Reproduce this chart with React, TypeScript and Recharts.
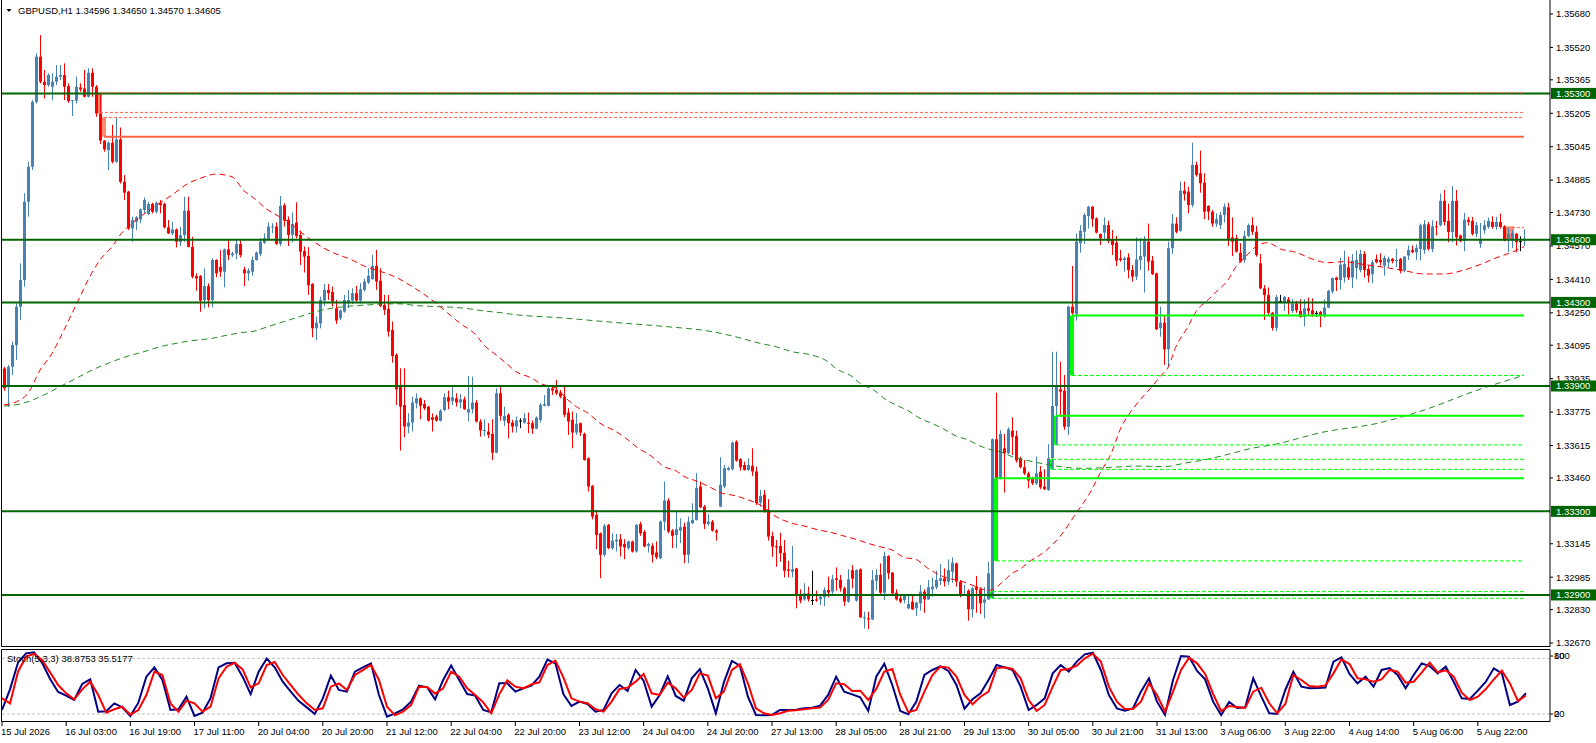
import React from 'react'
import {
  ComposedChart,
  Bar,
  Line,
  XAxis,
  YAxis,
  ReferenceLine,
  ReferenceArea,
} from 'recharts'

// prices are stored in points above 1.30000 (1 point = 0.00001)
const openPts = [
  3984, 3897, 3992, 4096, 4279, 4407, 4782, 4949, 5260, 5476,
  5356, 5340, 5332, 5356, 5380, 5388, 5335, 5265, 5265, 5329,
  5324, 5284, 5399, 5332, 5204, 5074, 5029, 5064, 4973, 5080,
  4877, 4830, 4654, 4686, 4697, 4742, 4723, 4771, 4734, 4777,
  4771, 4659, 4630, 4649, 4590, 4622, 4739, 4566, 4426, 4426,
  4311, 4378, 4311, 4503, 4470, 4447, 4554, 4526, 4534, 4579,
  4458, 4439, 4447, 4503, 4532, 4586, 4602, 4660, 4663, 4580,
  4765, 4695, 4623, 4682, 4623, 4546, 4522, 4388, 4176, 4200,
  4309, 4360, 4350, 4272, 4224, 4256, 4296, 4309, 4344, 4309,
  4360, 4395, 4411, 4474, 4404, 4288, 4269, 4168, 4049, 3897,
  3809, 3706, 3725, 3817, 3841, 3814, 3801, 3750, 3754, 3734,
  3785, 3846, 3829, 3841, 3821, 3836, 3773, 3789, 3821, 3730,
  3687, 3682, 3671, 3581, 3865, 3734, 3762, 3725, 3706, 3735,
  3725, 3725, 3722, 3696, 3738, 3805, 3805, 3889, 3881, 3869,
  3849, 3773, 3738, 3677, 3722, 3671, 3554, 3422, 3283, 3195,
  3092, 3235, 3124, 3156, 3167, 3144, 3124, 3156, 3108, 3240,
  3202, 3135, 3135, 3103, 3076, 3251, 3352, 3208, 3187, 3208,
  3227, 3092, 3243, 3259, 3419, 3323, 3240, 3251, 3208, 3323,
  3419, 3498, 3502, 3634, 3550, 3522, 3498, 3518, 3491, 3342,
  3380, 3307, 3182, 3134, 3134, 3102, 3023, 3011, 3027, 2905,
  2879, 2908, 2876, 2879, 2879, 2889, 2924, 2916, 2980, 2972,
  2932, 2868, 3019, 2873, 3023, 2788, 2788, 2783, 2968, 2996,
  2911, 3086, 3007, 2911, 2884, 2876, 2836, 2868, 2836, 2860,
  2916, 2879, 2927, 2937, 2968, 2980, 2964, 3011, 3051, 2964,
  2900, 2921, 2831, 2940, 2927, 2863, 2879, 2892, 3645, 3458,
  3602, 3578, 3686, 3661, 3554, 3511, 3482, 3458, 3434, 3490,
  3418, 3402, 3554, 3804, 3884, 3878, 3705, 4280, 4245, 4583,
  4638, 4713, 4758, 4702, 4627, 4634, 4670, 4602, 4586, 4511,
  4503, 4516, 4455, 4423, 4503, 4519, 4591, 4500, 4439, 4176,
  4203, 4075, 4559, 4677, 4643, 4835, 4830, 4766, 4958, 4918,
  4873, 4761, 4734, 4677, 4670, 4718, 4755, 4611, 4607, 4538,
  4503, 4618, 4670, 4638, 4487, 4367, 4335, 4250, 4178, 4307,
  4299, 4315, 4259, 4294, 4259, 4230, 4272, 4262, 4250, 4255,
  4239, 4275, 4352, 4419, 4407, 4419, 4468, 4419, 4464, 4455,
  4532, 4460, 4436, 4508, 4503, 4476, 4492, 4508, 4500, 4508,
  4452, 4524, 4551, 4540, 4556, 4551, 4674, 4556, 4664, 4669,
  4786, 4690, 4637, 4786, 4620, 4593, 4696, 4690, 4628, 4580,
  4645, 4661, 4685, 4661, 4685, 4664, 4604, 4596, 4628, 4593,
  4596,
]

const highPts = [
  3992, 4000, 4112, 4295, 4487, 4822, 4973, 5268, 5492, 5579,
  5412, 5396, 5396, 5436, 5436, 5444, 5348, 5268, 5380, 5348,
  5412, 5420, 5420, 5340, 5297, 5077, 5069, 5149, 5181, 5137,
  4909, 4834, 4710, 4713, 4750, 4802, 4782, 4777, 4782, 4790,
  4777, 4694, 4686, 4654, 4662, 4806, 4806, 4614, 4439, 4431,
  4463, 4391, 4511, 4506, 4550, 4558, 4598, 4542, 4598, 4598,
  4471, 4463, 4519, 4543, 4607, 4631, 4682, 4679, 4683, 4809,
  4774, 4711, 4731, 4779, 4644, 4567, 4564, 4392, 4232, 4328,
  4388, 4388, 4376, 4312, 4267, 4336, 4360, 4368, 4379, 4392,
  4414, 4463, 4527, 4551, 4463, 4336, 4336, 4208, 4057, 3985,
  3985, 3769, 3849, 3865, 3845, 3833, 3805, 3769, 3762, 3789,
  3865, 3878, 3894, 3865, 3862, 3849, 3948, 3945, 3833, 3741,
  3741, 3722, 3741, 3889, 3905, 3801, 3769, 3738, 3754, 3746,
  3770, 3773, 3735, 3754, 3818, 3857, 3905, 3905, 3929, 3881,
  3905, 3794, 3778, 3770, 3725, 3677, 3559, 3427, 3307, 3199,
  3240, 3240, 3195, 3192, 3192, 3167, 3160, 3160, 3240, 3251,
  3211, 3151, 3148, 3156, 3256, 3443, 3363, 3215, 3299, 3267,
  3246, 3275, 3339, 3483, 3443, 3331, 3288, 3259, 3215, 3559,
  3522, 3514, 3634, 3640, 3554, 3538, 3554, 3602, 3514, 3403,
  3402, 3358, 3203, 3163, 3198, 3163, 3064, 3134, 3030, 2927,
  2956, 2940, 3016, 2921, 2895, 2937, 2988, 2996, 3032, 2996,
  2940, 3023, 3043, 3023, 3027, 2820, 2820, 3019, 3023, 3051,
  3107, 3090, 3010, 2927, 2900, 2905, 2900, 2895, 2868, 2948,
  2927, 2972, 2984, 3016, 3048, 3027, 3070, 3080, 3055, 2972,
  2948, 2927, 2940, 2991, 2937, 2937, 3059, 3649, 3868, 3689,
  3670, 3702, 3750, 3686, 3562, 3546, 3490, 3466, 3562, 3517,
  3501, 3622, 4064, 4064, 4016, 3953, 4284, 4474, 4630, 4670,
  4726, 4762, 4761, 4707, 4630, 4707, 4691, 4646, 4618, 4551,
  4519, 4535, 4479, 4611, 4607, 4618, 4677, 4522, 4442, 4280,
  4240, 4591, 4723, 4707, 4878, 4878, 4854, 5064, 4973, 5026,
  4918, 4765, 4742, 4726, 4734, 4774, 4777, 4707, 4623, 4583,
  4643, 4677, 4707, 4666, 4532, 4383, 4371, 4255, 4336, 4336,
  4331, 4326, 4315, 4307, 4315, 4315, 4323, 4320, 4259, 4259,
  4315, 4360, 4419, 4423, 4513, 4548, 4519, 4532, 4548, 4551,
  4545, 4476, 4503, 4529, 4535, 4524, 4519, 4513, 4556, 4513,
  4522, 4572, 4572, 4577, 4677, 4693, 4685, 4693, 4690, 4821,
  4838, 4773, 4857, 4838, 4624, 4728, 4709, 4709, 4685, 4680,
  4693, 4706, 4712, 4709, 4725, 4669, 4657, 4645, 4632, 4616,
  4650,
]

const lowPts = [
  3877, 3801, 3952, 4024, 4215, 4375, 4710, 4933, 5252, 5348,
  5276, 5332, 5268, 5340, 5364, 5268, 5255, 5192, 5252, 5308,
  5281, 5281, 5284, 5188, 5058, 5021, 4933, 4965, 4968, 4869,
  4790, 4646, 4590, 4646, 4678, 4726, 4718, 4726, 4726, 4726,
  4654, 4627, 4622, 4563, 4570, 4590, 4563, 4415, 4356, 4255,
  4271, 4276, 4276, 4420, 4423, 4372, 4503, 4518, 4506, 4515,
  4378, 4404, 4427, 4500, 4522, 4580, 4596, 4631, 4575, 4570,
  4663, 4570, 4586, 4607, 4479, 4443, 4336, 4133, 4120, 4176,
  4283, 4312, 4280, 4197, 4216, 4251, 4272, 4293, 4304, 4296,
  4352, 4388, 4408, 4360, 4277, 4240, 4136, 4012, 3809, 3591,
  3655, 3674, 3682, 3793, 3741, 3785, 3730, 3682, 3730, 3730,
  3780, 3789, 3809, 3801, 3793, 3785, 3730, 3769, 3725, 3658,
  3661, 3650, 3546, 3578, 3734, 3709, 3650, 3677, 3677, 3698,
  3719, 3674, 3671, 3693, 3725, 3803, 3802, 3857, 3857, 3841,
  3751, 3666, 3602, 3666, 3661, 3543, 3395, 3262, 3119, 2980,
  3084, 3119, 3116, 3108, 3084, 3071, 3116, 3103, 3103, 3183,
  3128, 3103, 3055, 3071, 3071, 3208, 3195, 3124, 3124, 3148,
  3052, 3052, 3240, 3256, 3315, 3215, 3231, 3203, 3160, 3320,
  3411, 3495, 3495, 3538, 3495, 3495, 3495, 3470, 3331, 3323,
  3294, 3160, 3083, 3035, 3059, 2984, 2984, 2984, 2836, 2860,
  2873, 2868, 2852, 2868, 2852, 2847, 2889, 2895, 2921, 2916,
  2847, 2863, 2932, 2868, 2790, 2740, 2736, 2780, 2921, 2900,
  2876, 2975, 2895, 2873, 2860, 2860, 2831, 2828, 2799, 2825,
  2815, 2876, 2892, 2927, 2948, 2940, 2948, 2959, 2940, 2889,
  2895, 2777, 2793, 2815, 2809, 2788, 2876, 2884, 3453, 3453,
  3390, 3575, 3570, 3533, 3506, 3474, 3410, 3426, 3426, 3406,
  3402, 3398, 3498, 3618, 3753, 3690, 3666, 4240, 4213, 4538,
  4580, 4654, 4662, 4630, 4575, 4599, 4583, 4527, 4474, 4495,
  4447, 4415, 4399, 4407, 4455, 4347, 4452, 4431, 4168, 4136,
  4001, 3989, 4532, 4630, 4638, 4787, 4726, 4755, 4902, 4825,
  4698, 4694, 4662, 4662, 4650, 4682, 4570, 4522, 4538, 4490,
  4490, 4612, 4623, 4519, 4363, 4216, 4240, 4165, 4162, 4299,
  4259, 4243, 4250, 4250, 4227, 4186, 4235, 4230, 4230, 4181,
  4227, 4272, 4342, 4355, 4363, 4395, 4407, 4368, 4411, 4444,
  4419, 4395, 4391, 4487, 4476, 4428, 4468, 4487, 4468, 4439,
  4444, 4503, 4535, 4503, 4500, 4532, 4548, 4540, 4620, 4664,
  4669, 4588, 4588, 4572, 4588, 4545, 4669, 4620, 4612, 4561,
  4628, 4653, 4653, 4648, 4653, 4593, 4540, 4561, 4540, 4545,
  4570,
]

const closePts = [
  3889, 3992, 4096, 4279, 4407, 4782, 4949, 5260, 5476, 5356,
  5340, 5388, 5356, 5380, 5388, 5332, 5263, 5268, 5332, 5319,
  5284, 5399, 5332, 5204, 5074, 5032, 5064, 4973, 5080, 4877,
  4825, 4654, 4694, 4707, 4745, 4790, 4771, 4734, 4777, 4766,
  4659, 4630, 4649, 4590, 4622, 4739, 4566, 4423, 4415, 4308,
  4378, 4311, 4503, 4439, 4447, 4554, 4526, 4534, 4579, 4526,
  4439, 4452, 4503, 4538, 4591, 4607, 4663, 4663, 4580, 4762,
  4691, 4623, 4674, 4618, 4543, 4519, 4382, 4176, 4203, 4312,
  4360, 4344, 4304, 4213, 4261, 4312, 4312, 4344, 4309, 4363,
  4400, 4427, 4474, 4400, 4283, 4264, 4160, 4044, 3884, 3801,
  3706, 3725, 3821, 3841, 3805, 3793, 3734, 3738, 3734, 3782,
  3846, 3825, 3846, 3821, 3836, 3789, 3789, 3821, 3730, 3687,
  3690, 3666, 3581, 3865, 3757, 3757, 3722, 3706, 3735, 3735,
  3746, 3719, 3696, 3749, 3810, 3813, 3889, 3878, 3865, 3849,
  3762, 3730, 3677, 3719, 3677, 3546, 3419, 3275, 3187, 3092,
  3231, 3124, 3160, 3164, 3132, 3128, 3156, 3108, 3235, 3195,
  3132, 3144, 3092, 3081, 3251, 3352, 3203, 3183, 3215, 3224,
  3092, 3251, 3259, 3411, 3320, 3240, 3251, 3208, 3199, 3427,
  3507, 3507, 3629, 3543, 3511, 3498, 3522, 3491, 3339, 3374,
  3299, 3179, 3131, 3128, 3099, 3016, 3016, 3023, 2900, 2873,
  2908, 2879, 2876, 2873, 2892, 2924, 2911, 2975, 2972, 2932,
  2868, 2975, 2978, 3019, 2793, 2793, 2783, 2972, 2996, 2911,
  3086, 3004, 2908, 2879, 2868, 2895, 2857, 2831, 2863, 2916,
  2879, 2937, 2940, 2972, 2980, 2964, 3019, 3055, 2964, 2900,
  2905, 2831, 2932, 2924, 2860, 2879, 3004, 3645, 3458, 3670,
  3578, 3693, 3657, 3543, 3511, 3482, 3447, 3434, 3482, 3415,
  3406, 3554, 3804, 3897, 3873, 3705, 4280, 4248, 4591, 4643,
  4718, 4758, 4698, 4634, 4607, 4670, 4595, 4575, 4500, 4503,
  4511, 4455, 4423, 4506, 4522, 4595, 4495, 4436, 4171, 4203,
  4075, 4559, 4677, 4638, 4835, 4819, 4766, 4958, 4910, 4870,
  4734, 4734, 4677, 4698, 4718, 4758, 4599, 4591, 4543, 4495,
  4618, 4670, 4638, 4527, 4367, 4335, 4250, 4178, 4326, 4307,
  4326, 4299, 4294, 4262, 4230, 4272, 4259, 4243, 4250, 4239,
  4275, 4355, 4416, 4407, 4481, 4484, 4419, 4500, 4503, 4532,
  4455, 4428, 4492, 4492, 4492, 4513, 4508, 4497, 4503, 4452,
  4519, 4551, 4540, 4561, 4669, 4674, 4556, 4664, 4661, 4786,
  4685, 4637, 4786, 4612, 4593, 4696, 4685, 4628, 4669, 4604,
  4669, 4690, 4661, 4685, 4661, 4596, 4628, 4632, 4588, 4593,
  4605,
]

// moving averages, read at these bars
const fastMaBars = [
  0, 4, 6, 9, 12, 15, 17, 19, 21, 24, 27, 29, 32, 37, 42, 46, 49, 53, 57, 60,
  62, 66, 68, 71, 74, 78, 80, 83, 87, 90, 93, 96, 98, 102, 104, 108, 111, 114, 118, 120,
  123, 126, 128, 132, 134, 138, 141, 143, 146, 149, 153, 156, 158, 162, 165, 168, 170, 173, 177, 179,
  183, 186, 189, 193, 197, 200, 203, 207, 210, 213, 216, 219, 222, 225, 228, 231, 233, 236, 239, 243,
  246, 248, 250, 252, 254, 256, 260, 264, 268, 272, 274, 277, 279, 282, 284, 287, 289, 291, 293, 296,
  298, 301, 303, 306, 308, 310, 313, 316, 319, 323, 327, 331, 335, 339, 345, 350, 355, 360, 365, 369,
  373, 377, 380,
]
const fastMaPts = [
  3809, 3833, 3865, 3976, 4056, 4168, 4247, 4327, 4407, 4503, 4566, 4622, 4678, 4750, 4814, 4869, 4893, 4914, 4901, 4834,
  4806, 4742, 4719, 4687, 4639, 4583, 4559, 4532, 4503, 4474, 4455, 4436, 4420, 4376, 4352, 4296, 4248, 4200, 4144, 4096,
  4049, 4001, 3969, 3937, 3913, 3889, 3833, 3802, 3770, 3722, 3682, 3642, 3610, 3562, 3514, 3494, 3467, 3446, 3411, 3390,
  3374, 3355, 3331, 3275, 3243, 3230, 3214, 3198, 3182, 3166, 3147, 3131, 3115, 3080, 3070, 3027, 3004, 2980, 2968, 2940,
  2921, 2937, 2968, 3004, 3023, 3055, 3105, 3180, 3290, 3406, 3482, 3586, 3690, 3785, 3833, 3897, 3945, 3989, 4088, 4184,
  4256, 4312, 4351, 4407, 4471, 4511, 4567, 4586, 4556, 4540, 4508, 4490, 4495, 4484, 4468, 4452, 4436, 4436, 4455, 4481,
  4513, 4540, 4567,
]
const slowMaBars = [
  0, 4, 6, 10, 14, 18, 22, 27, 31, 35, 39, 43, 47, 52, 56, 60, 62, 66, 70, 74,
  78, 82, 87, 91, 95, 99, 103, 108, 112, 116, 120, 124, 127, 140, 152, 165, 177, 183, 189, 193,
  197, 202, 206, 208, 212, 214, 218, 220, 223, 226, 229, 232, 235, 238, 241, 244, 247, 249, 252, 256,
  260, 264, 270, 277, 283, 290, 295, 302, 307, 312, 317, 330, 343, 355, 368, 380,
]
const slowMaPts = [
  3804, 3814, 3825, 3857, 3897, 3936, 3976, 4016, 4043, 4064, 4088, 4104, 4117, 4128, 4144, 4157, 4160, 4184, 4208, 4232,
  4256, 4272, 4283, 4288, 4293, 4293, 4285, 4280, 4277, 4270, 4259, 4251, 4243, 4225, 4205, 4185, 4160, 4135, 4104, 4088,
  4064, 4048, 4016, 3984, 3945, 3913, 3873, 3841, 3809, 3782, 3745, 3721, 3693, 3661, 3642, 3613, 3594, 3586, 3562, 3543,
  3527, 3514, 3506, 3511, 3517, 3514, 3530, 3554, 3578, 3602, 3618, 3680, 3720, 3785, 3878, 3951,
]

// stochastic %K and %D, one value every second bar
const stochKEven = [
  14.5, 44.4, 83.5, 96.6, 98, 83, 59.4, 40.6, 35.3, 29, 52.2, 59, 12.1, 12.6, 24.1, 18.3, 5.8, 25.1, 62.8, 76.3,
  58, 14.5, 15.5, 33.8, 5.8, 10.6, 31.4, 76.3, 82.1, 83, 62.8, 37.6, 70, 88.9, 76.3, 55.5, 41.1, 27.5, 18.3, 8.7,
  31.4, 64.2, 43.5, 41.1, 70, 76.3, 82.1, 36.2, 4.8, 9.6, 15.5, 26.6,
  49.8, 47.4, 30, 58, 78.8, 58, 37.7, 35.3, 14.5, 11.1, 53.2, 53.2, 41.1, 45.9, 49.8, 62.8, 87.4, 82.1, 37.2, 20.3,
  26.6, 23.2, 12.1, 14.5, 38.7, 50.7, 42, 72.5, 56.5, 19.3, 36.3, 63.3, 34.8, 28, 60.4, 73.9, 45.9, 9.7, 54.6, 85.5,
  78.8, 33.8, 7.3, 6.8, 7.3, 14.5, 14.5, 15,
  16.9, 17.9, 20.8, 36.3, 62.8, 41.1, 37.2, 32.9, 13.1, 62.8, 81.6, 50.7, 13.1, 8.2, 26.6, 65.2, 72.5, 77.8, 71, 50.7,
  16.4, 30, 38.7, 58, 79.7, 76.3, 72.5, 48.3, 14.5, 21.8, 31.4, 67.6, 79.7, 70.1, 84.6, 95.2, 97.6, 72.5, 36.3, 16.9,
  13.5, 16.9, 41.1, 60.4, 26.6, 7.3, 58, 92.8, 91.8, 71,
  59, 26.6, 7.2, 26.1, 17.4, 18.4, 60.4, 34.3, 9.7, 8.7, 43.5, 70, 48.3, 45.9, 46.4, 46.9, 84.5, 90.8, 66.7, 53.1,
  62.8, 48.3, 72.5, 75.3, 65.2, 45.9, 65.2, 82.1, 78.2, 67.6, 77.3, 55.1, 31.4, 30.4, 42.5, 55.5, 74.9, 67.6, 21.7, 26.6,
  38.9,
]
const stochDEven = [
  31.4, 24.1, 70, 91.8, 96, 87, 69, 50.7, 38.6, 30, 44.4, 55.5, 36.2, 10.6, 15.5, 19.3, 7.7, 14.5, 36.2, 70,
  65.2, 24.1, 12.1, 28, 24.1, 12.1, 19.3, 60.4, 77.3, 83, 73.4, 47.3, 53.1, 79.7, 84, 65.2, 50.7, 36.2, 24.1, 14.5,
  16.9, 48.3, 53.1, 43.5, 65.2, 72.4, 79.7, 58, 19.3, 6.8, 12.1, 21.7,
  48.3, 47.8, 38.2, 45.9, 70.1, 62.8, 45.9, 36.3, 25.6, 9.7, 37.2, 57.5, 48.3, 45.9, 51.7, 54.6, 79.7, 86, 61.4, 31.4,
  26.6, 24.2, 15.5, 12.1, 26.6, 45, 46.9, 55.6, 66.7, 38.7, 36.3, 54.1, 45.9, 32.4, 43.5, 67.6, 64.3, 31.4, 41.1, 72.5,
  80.7, 53.2, 16.9, 9.7, 7.3, 9.7, 13.5, 14,
  15.5, 16.9, 17.9, 29, 53.2, 51.7, 42, 42.5, 29, 45, 70.1, 73.9, 36.3, 11.1, 14.5, 41.1, 65.2, 77.3, 75.9, 62.8,
  36.3, 22.7, 33.8, 41.1, 74.9, 76.3, 73.9, 60.4, 29, 13.1, 21.8, 48.3, 72.5, 73.9, 78.8, 89.4, 96.1, 84.6, 48.3, 26.6,
  16, 16, 26.6, 53.2, 36.3, 12.1, 41.1, 72.5, 90.3, 82.1,
  66.7, 37.7, 13, 20.3, 18.8, 17.4, 41.1, 46.8, 24.2, 9.7, 23.2, 65.2, 58, 49.3, 48.3, 50.2, 67.6, 87.9, 81.1, 60.4,
  58.9, 55.5, 58.9, 72.5, 70, 54.1, 55.5, 68.6, 83.1, 69.1, 72, 62.8, 39.6, 29, 33.8, 44.9, 58.9, 71.5, 53.1, 27.5,
  35.5,
]

const timeLabels = [
  '15 Jul 2026', '16 Jul 03:00', '16 Jul 19:00', '17 Jul 11:00', '20 Jul 04:00', '20 Jul 20:00',
  '21 Jul 12:00', '22 Jul 04:00', '22 Jul 20:00', '23 Jul 12:00', '24 Jul 04:00', '24 Jul 20:00',
  '27 Jul 13:00', '28 Jul 05:00', '28 Jul 21:00', '29 Jul 13:00', '30 Jul 05:00', '30 Jul 21:00',
  '31 Jul 13:00', '3 Aug 06:00', '3 Aug 22:00', '4 Aug 14:00', '5 Aug 06:00', '5 Aug 22:00',
]

const priceTicks = [
  1.3568, 1.3552, 1.35365, 1.35205, 1.35045, 1.34885, 1.3473, 1.3457, 1.3441, 1.3425,
  1.34095, 1.33935, 1.33775, 1.33615, 1.3346, 1.33145, 1.32985, 1.3283, 1.3267,
]
const levelLines = [1.353, 1.346, 1.343, 1.339, 1.333, 1.329]

// drawn objects (levels in points, bar where they begin)
const limeSolidPts = [3458, 3758, 4237]
const limeSolidFrom = [248, 263, 267]
const limeDashPts = [2884, 2916, 3063, 3501, 3549, 3618, 3950]
const limeDashFrom = [247, 247, 248, 262, 262, 263, 267]
const limeBoxBar = [247, 248, 262, 263, 267]
const limeBoxLow = [2884, 3063, 3501, 3618, 3950]
const limeBoxHigh = [2916, 3458, 3549, 3758, 4237]
const redSolidPts = [5093]
const redSolidFrom = [25]
const redDashPts = [5303, 5209, 5185, 4658]
const redDashFrom = [24, 24, 25, 377]
const redBoxBar = [24, 25, 376]
const redBoxBarEnd = [24, 25, 377]
const redBoxLow = [5204, 5093, 4596]
const redBoxHigh = [5300, 5185, 4664]

const LAST_BAR = 380
const SLOTS = 387
const AXIS_X = 1550
const FONT = "'Liberation Sans', Arial, sans-serif"
const BULL = '#4682b4'
const BEAR = '#ff0000'
const DARK_GREEN = '#006400'
const LIME = '#00ff00'
const TOMATO = '#ff6347'

const toPrice = (p: number) => 1.3 + p / 100000

const fastMap = new Map(fastMaBars.map((b, k) => [b, fastMaPts[k]]))
const slowMap = new Map(slowMaBars.map((b, k) => [b, slowMaPts[k]]))

const rows = Array.from({ length: SLOTS }, (_, i) => {
  const row: any = { i }
  if (i < openPts.length) {
    row.o = toPrice(openPts[i])
    row.h = toPrice(highPts[i])
    row.l = toPrice(lowPts[i])
    row.c = toPrice(closePts[i])
    row.range = [row.l, row.h]
  }
  if (fastMap.has(i)) row.fast = toPrice(fastMap.get(i) as number)
  if (slowMap.has(i)) row.slow = toPrice(slowMap.get(i) as number)
  if (i % 2 === 0 && i / 2 < stochKEven.length) {
    row.k = stochKEven[i / 2]
    row.d = stochDEven[i / 2]
  }
  return row
})

function Candle(props: any) {
  const { x, y, width, height, payload } = props
  if (!payload || payload.o == null || y == null) return null
  const top = Math.min(y, y + height)
  const span = Math.abs(height)
  const { o, h, l, c } = payload
  const toY = (v: number) => (h === l ? top : top + ((h - v) / (h - l)) * span)
  const yo = toY(o)
  const yc = toY(c)
  const color = c > o ? BULL : c < o ? BEAR : '#000'
  return (
    <g>
      <rect x={x + width / 2 - 0.5} y={top} width={1} height={Math.max(span, 1)} fill={color} />
      <rect x={x} y={Math.min(yo, yc)} width={width} height={Math.max(1, Math.abs(yo - yc))} fill={color} />
    </g>
  )
}

function PriceTick(props: any) {
  const { y, payload } = props
  const v = payload.value
  if (levelLines.includes(v)) {
    return (
      <g>
        <rect x={AXIS_X + 1} y={y - 5.5} width={45} height={11} fill={DARK_GREEN} />
        <text x={AXIS_X + 6} y={y} dy="0.35em" fill="#fff" fontSize={9.5} fontFamily={FONT}>
          {v.toFixed(5)}
        </text>
      </g>
    )
  }
  return (
    <g>
      <line x1={AXIS_X} x2={AXIS_X + 3} y1={y} y2={y} stroke="#000" />
      <text x={AXIS_X + 6} y={y} dy="0.35em" fill="#000" fontSize={9.5} fontFamily={FONT}>
        {v.toFixed(5)}
      </text>
    </g>
  )
}

function TimeTick(props: any) {
  const { x, payload } = props
  const i = payload.value
  if (i % 16 !== 0 || !timeLabels[i / 16]) return null
  return (
    <g>
      <line x1={x} x2={x} y1={75} y2={79} stroke="#000" />
      <text x={x - 1} y={85} dy="0.35em" fill="#000" fontSize={9.5} fontFamily={FONT}>
        {timeLabels[i / 16]}
      </text>
    </g>
  )
}

export default function App() {
  const axisTicks = [...priceTicks, ...levelLines]
  return (
    <div style={{ position: 'absolute', left: 0, top: 0, width: 1596, height: 743, background: '#fff' }}>
      <div style={{ position: 'absolute', left: 0, top: 0 }}>
        <ComposedChart
          width={1596}
          height={660}
          data={rows}
          margin={{ top: 0, right: 0, bottom: 13, left: 2 }}
          barGap={0}
          barCategoryGap={0}
        >
          <XAxis dataKey="i" hide />
          <YAxis
            orientation="right"
            width={46}
            type="number"
            domain={[1.32651, 1.35747]}
            allowDataOverflow
            ticks={axisTicks}
            interval={0}
            tick={(p: any) => <PriceTick {...p} />}
            tickLine={false}
            axisLine={{ stroke: '#000' }}
          />
          {redBoxBar.map((b, k) => (
            <ReferenceArea
              key={`rb${k}`}
              x1={b}
              x2={redBoxBarEnd[k]}
              y1={toPrice(redBoxLow[k])}
              y2={toPrice(redBoxHigh[k])}
              fill="#ff8a70"
              fillOpacity={1}
              stroke="none"
            />
          ))}
          {limeBoxBar.map((b, k) => (
            <ReferenceArea
              key={`lb${k}`}
              x1={b}
              x2={b}
              y1={toPrice(limeBoxLow[k])}
              y2={toPrice(limeBoxHigh[k])}
              fill={LIME}
              fillOpacity={1}
              stroke="none"
            />
          ))}
          <Bar dataKey="range" barSize={3} shape={(p: any) => <Candle {...p} />} isAnimationActive={false} />
          <Line
            dataKey="slow"
            type="monotone"
            stroke="#228b22"
            strokeWidth={1}
            strokeDasharray="6 4"
            dot={false}
            activeDot={false}
            connectNulls
            isAnimationActive={false}
          />
          <Line
            dataKey="fast"
            type="monotone"
            stroke="#ff0000"
            strokeWidth={1}
            strokeDasharray="6 4"
            dot={false}
            activeDot={false}
            connectNulls
            isAnimationActive={false}
          />
          {levelLines.map((v) => (
            <ReferenceLine key={`g${v}`} y={v} stroke={DARK_GREEN} strokeWidth={2} />
          ))}
          {redSolidPts.map((p, k) => (
            <ReferenceLine
              key={`rs${k}`}
              segment={[{ x: redSolidFrom[k], y: toPrice(p) }, { x: LAST_BAR, y: toPrice(p) }]}
              stroke={TOMATO}
              strokeWidth={2}
            />
          ))}
          {redDashPts.map((p, k) => (
            <ReferenceLine
              key={`rd${k}`}
              segment={[{ x: redDashFrom[k], y: toPrice(p) }, { x: LAST_BAR, y: toPrice(p) }]}
              stroke={TOMATO}
              strokeWidth={1}
              strokeDasharray="3 2"
            />
          ))}
          {limeSolidPts.map((p, k) => (
            <ReferenceLine
              key={`ls${k}`}
              segment={[{ x: limeSolidFrom[k], y: toPrice(p) }, { x: LAST_BAR, y: toPrice(p) }]}
              stroke={LIME}
              strokeWidth={2}
            />
          ))}
          {limeDashPts.map((p, k) => (
            <ReferenceLine
              key={`ld${k}`}
              segment={[{ x: limeDashFrom[k], y: toPrice(p) }, { x: LAST_BAR, y: toPrice(p) }]}
              stroke={LIME}
              strokeWidth={1}
              strokeDasharray="4 2"
            />
          ))}
        </ComposedChart>
      </div>
      <div style={{ position: 'absolute', left: 0, top: 647 }}>
        <ComposedChart width={1596} height={96} data={rows} margin={{ top: 4, right: 46, bottom: 0, left: 2 }}>
          <XAxis
            dataKey="i"
            height={23}
            interval={15}
            tick={(p: any) => <TimeTick {...p} />}
            tickLine={false}
            axisLine={false}
          />
          <YAxis hide type="number" domain={[0, 100]} allowDataOverflow />
          <ReferenceLine y={89.4} stroke="#c0c0c0" strokeDasharray="3 2" />
          <ReferenceLine y={8.7} stroke="#c0c0c0" strokeDasharray="3 2" />
          <Line
            dataKey="k"
            type="linear"
            stroke="#000080"
            strokeWidth={2}
            dot={false}
            activeDot={false}
            connectNulls
            isAnimationActive={false}
          />
          <Line
            dataKey="d"
            type="linear"
            stroke="#ff0000"
            strokeWidth={2}
            dot={false}
            activeDot={false}
            connectNulls
            isAnimationActive={false}
          />
        </ComposedChart>
      </div>
      <svg
        width={1596}
        height={743}
        style={{ position: 'absolute', left: 0, top: 0, pointerEvents: 'none' }}
        fontFamily={FONT}
      >
        <polygon points="6.5,9 11.5,9 9,12" fill="#000" />
        <text x={18} y={11} dy="0.35em" fontSize={9.5} fill="#000">
          GBPUSD,H1  1.34596 1.34650 1.34570 1.34605
        </text>
        <line x1={1.5} x2={1.5} y1={0} y2={646.5} stroke="#000" />
        <line x1={1.5} x2={AXIS_X} y1={646.5} y2={646.5} stroke="#000" />
        <line x1={1.5} x2={AXIS_X} y1={649.5} y2={649.5} stroke="#000" />
        <line x1={1.5} x2={AXIS_X} y1={721.5} y2={721.5} stroke="#000" />
        <line x1={1.5} x2={1.5} y1={649.5} y2={721.5} stroke="#000" />
        <line x1={AXIS_X} x2={AXIS_X} y1={649.5} y2={721.5} stroke="#000" />
        <text x={7} y={659} dy="0.35em" fontSize={9.5} fill="#000">
          Stoch(5,3,3) 38.8753 35.5177
        </text>
        <line x1={AXIS_X} x2={AXIS_X + 3} y1={656} y2={656} stroke="#000" />
        <line x1={AXIS_X} x2={AXIS_X + 3} y1={714} y2={714} stroke="#000" />
        <text x={AXIS_X + 4} y={656} dy="0.35em" fontSize={9.5} fill="#000">100</text>
        <text x={AXIS_X + 4} y={656} dy="0.35em" fontSize={9.5} fill="#000">80</text>
        <text x={AXIS_X + 4} y={714} dy="0.35em" fontSize={9.5} fill="#000">0</text>
        <text x={AXIS_X + 4} y={714} dy="0.35em" fontSize={9.5} fill="#000">20</text>
      </svg>
    </div>
  )
}
